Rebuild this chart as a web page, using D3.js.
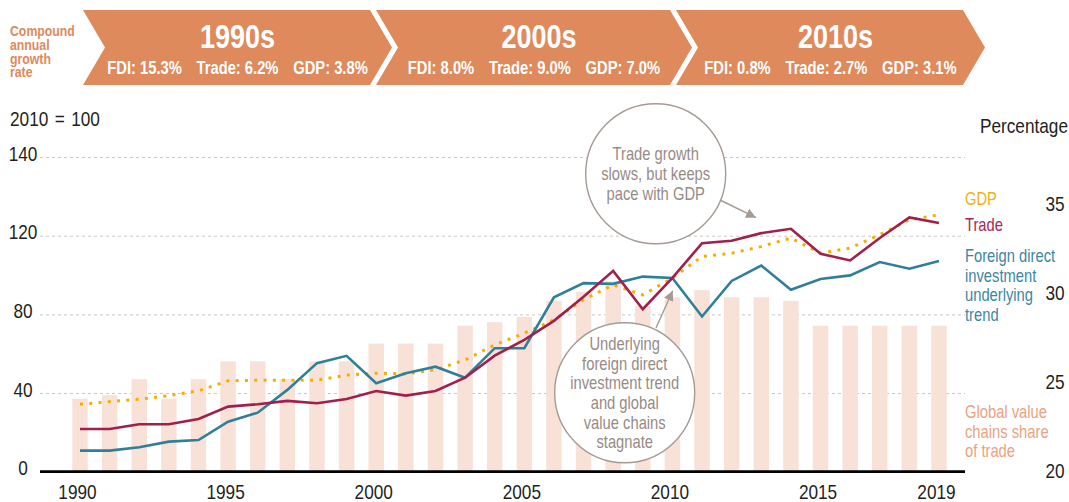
<!DOCTYPE html>
<html>
<head>
<meta charset="utf-8">
<script src="https://cdn.jsdelivr.net/npm/d3@7"></script>
<style>
  body { margin: 0; background: #fff; }
  svg { display: block; font-family: "Liberation Sans", Arial, sans-serif; }
</style>
</head>
<body>
<div id="grafica"></div>
<script>
// Datos
const years = d3.range(1990, 2020)
const trade = [21.7, 21.7, 24.1, 24.1, 26.8, 33.1, 34.3, 36.0, 34.8, 37.0,
               41.0, 38.7, 41.0, 47.8, 59.0, 67.0, 76.7, 89.0, 102.1, 82.6,
               98.5, 116.2, 117.4, 121.3, 123.5, 110.8, 107.4, 118.8, 129.3, 126.4]
const fdi = [10.7, 10.7, 12.4, 15.3, 16.1, 25.4, 30.0, 41.6, 55.2, 58.9,
             45.0, 50.1, 53.4, 47.8, 62.8, 62.8, 88.7, 95.9, 95.5, 99.2,
             98.5, 78.9, 97.0, 104.8, 92.5, 98.0, 99.8, 106.6, 103.2, 107.1]
const gdp = [34.3, 35.6, 36.8, 38.7, 41.1, 46.2, 46.5, 46.5, 46.5, 49.1,
             50.1, 49.7, 51.8, 56.8, 64.5, 70.4, 77.2, 87.4, 95.0, 89.9,
             98.5, 109.4, 111.1, 114.5, 118.8, 111.1, 113.7, 120.5, 128.1, 130.6]
const gvcShare = [24.1, 24.3, 25.2, 24.1, 25.2, 26.2, 26.2, 25.2, 26.2, 26.2,
                  27.2, 27.2, 27.2, 28.2, 28.4, 28.7, 29.6, 30.1, 30.7, 29.3,
                  29.8, 30.2, 29.8, 29.8, 29.6, 28.2, 28.2, 28.2, 28.2, 28.2]

const xTicks = [1990, 1995, 2000, 2005, 2010, 2015, 2019]
const leftTicks = [0, 40, 80, 120, 160]
const leftTickLabels = ["0", "40", "80", "120", "140"]
const rightTicks = [20, 25, 30, 35]

const decades = ["1990s", "2000s", "2010s"]
const decadeRates = [
  "FDI: 15.3%\u2003Trade: 6.2%\u2003GDP: 3.8%",
  "FDI: 8.0%\u2003Trade: 9.0%\u2003GDP: 7.0%",
  "FDI: 0.8%\u2003Trade: 2.7%\u2003GDP: 3.1%"
]

// Colores
const cNaranja = "#de8a5c"
const cTrade = "#a01f4c"
const cFdi = "#2f7f99"
const cGdp = "#f5ae00"
const cBar = "#f8e2d8"
const cGris = "#a59a94"
const cTexto = "#231f20"

const anchoTotal = 1069
const altoTotal = 502
const base = 471.7
const K = 0.82 // compresion horizontal (fuente estrecha)

const svg = d3.select("#grafica").append("svg")
    .attr("width", anchoTotal)
    .attr("height", altoTotal)

// Texto estrecho: grupo escalado en x
const texto = (parent, x, y, lines, lh) => {
  const t = parent.append("g")
      .attr("transform", `translate(${x},${y}) scale(${K},1)`)
    .append("text")
  lines.forEach((s, i) => {
    t.append("tspan").attr("x", 0).attr("y", i * lh).text(s)
  })
  return t
}

// Escaladores
const x = d3.scaleLinear().domain([1990, 2019]).range([80, 939])
const yL = d3.scaleLinear().domain([0, 160]).range([base, 157])
const yR = d3.scaleLinear().domain([20, 35]).range([base, 204.7])

// Cabecera (chevrons)
const bandas = [[83, 370], [376, 670], [676, 963]]
const punta = 22
const hTop = 10, hBot = 85, hMid = 47.5

bandas.forEach(([l, r], i) => {
  svg.append("polygon")
    .attr("points", [[l, hTop], [r, hTop], [r + punta, hMid], [r, hBot], [l, hBot], [l + punta, hMid]].join(" "))
    .attr("fill", cNaranja)
  const cx = (l + r + punta) / 2
  texto(svg, cx + (i === 0 ? 0 : 5), 47.5, [decades[i]], 0)
    .attr("text-anchor", "middle")
    .attr("fill", "#fff")
    .attr("font-weight", "bold")
    .attr("font-size", "33px")
  texto(svg, cx, 73.5, [decadeRates[i]], 0)
    .attr("text-anchor", "middle")
    .attr("fill", "#fff")
    .attr("font-weight", "bold")
    .attr("font-size", "18px")
})

texto(svg, 10, 36, ["Compound", "annual", "growth", "rate"], 13.8)
    .attr("fill", cNaranja)
    .attr("font-weight", "bold")
    .attr("font-size", "15px")

// Rejilla
const grid = svg.append("g")
    .attr("transform", "translate(40,0)")
    .call(d3.axisRight(yL).tickValues(leftTicks.slice(1)).tickSize(925).tickFormat(""))
grid.select(".domain").remove()
grid.selectAll("line")
    .attr("stroke", "#c8c8c8")
    .attr("stroke-dasharray", "3,3")

// Barras (cadenas de valor, eje derecho)
svg.append("g").selectAll("rect")
  .data(years)
  .join("rect")
    .attr("x", d => x(d) - 7.75)
    .attr("width", 15.5)
    .attr("y", (d, i) => yR(gvcShare[i]))
    .attr("height", (d, i) => base - yR(gvcShare[i]))
    .attr("fill", cBar)

// Anotaciones (circulos)
const notas = [
  { cx: 655.7, cy: 173.7, lines: ["Trade growth", "slows, but keeps", "pace with GDP"] },
  { cx: 624.7, cy: 392.7, lines: ["Underlying", "foreign direct", "investment trend", "and global", "value chains", "stagnate"] }
]
notas.forEach(n => {
  svg.append("circle")
    .attr("cx", n.cx).attr("cy", n.cy).attr("r", 70)
    .attr("fill", "#fff")
    .attr("stroke", cGris)
    .attr("stroke-width", 1.4)
  const y0 = n.cy - (n.lines.length - 1) * 19.7 / 2 + 6.4
  texto(svg, n.cx, y0, n.lines, 19.7)
    .attr("text-anchor", "middle")
    .attr("fill", "#978b86")
    .attr("font-size", "18px")
})

// Lineas
const linea = serie => d3.line()
    .x((d, i) => x(years[i]))
    .y(d => yL(d))(serie)

svg.append("path")
    .attr("d", linea(gdp))
    .attr("fill", "none")
    .attr("stroke", cGdp)
    .attr("stroke-width", 3)
    .attr("stroke-dasharray", "3,6.3")

svg.append("path")
    .attr("d", linea(fdi))
    .attr("fill", "none")
    .attr("stroke", cFdi)
    .attr("stroke-width", 2.6)

svg.append("path")
    .attr("d", linea(trade))
    .attr("fill", "none")
    .attr("stroke", cTrade)
    .attr("stroke-width", 2.6)

// Flechas
svg.append("defs").append("marker")
    .attr("id", "flecha")
    .attr("viewBox", "0 0 10 10")
    .attr("refX", 10).attr("refY", 5)
    .attr("markerWidth", 10).attr("markerHeight", 10)
    .attr("markerUnits", "userSpaceOnUse")
    .attr("orient", "auto")
  .append("path")
    .attr("d", "M0,0 L10,5 L0,10 Z")
    .attr("fill", cGris)

;[[720, 200, 756, 217.7], [656, 328, 672.7, 290.7]].forEach(([x1, y1, x2, y2]) => {
  svg.append("line")
    .attr("x1", x1).attr("y1", y1).attr("x2", x2).attr("y2", y2)
    .attr("stroke", cGris)
    .attr("stroke-width", 1.4)
    .attr("marker-end", "url(#flecha)")
})

// Ejes
svg.append("line")
    .attr("x1", 40).attr("x2", 965)
    .attr("y1", base).attr("y2", base)
    .attr("stroke", "#000")
    .attr("stroke-width", 2.8)

const ejeX = svg.append("g")
    .attr("transform", `translate(0,${base})`)
    .call(d3.axisBottom(x).tickValues(xTicks).tickSize(0).tickFormat(d3.format("d")))
ejeX.select(".domain").remove()
ejeX.selectAll("text")
    .attr("font-family", null)
    .attr("font-size", "21px")
    .attr("fill", cTexto)
    .attr("transform", `scale(${K},1)`)
    .attr("x", -3 / K)
    .attr("y", 27.5)
    .attr("dy", 0)

const ejeY = svg.append("g")
    .attr("transform", "translate(23,0)")
    .call(d3.axisLeft(yL).tickValues(leftTicks).tickSize(0).tickPadding(0)
      .tickFormat((d, i) => leftTickLabels[i]))
ejeY.select(".domain").remove()
ejeY.selectAll("text")
    .attr("font-family", null)
    .attr("font-size", "21px")
    .attr("fill", cTexto)
    .attr("transform", `scale(${K},1)`)
    .attr("text-anchor", "middle")
    .attr("dy", "0.15em")

const ejeR = svg.append("g")
    .attr("transform", "translate(1055,0)")
    .call(d3.axisRight(yR).tickValues(rightTicks).tickSize(0).tickPadding(0))
ejeR.select(".domain").remove()
ejeR.selectAll("text")
    .attr("font-family", null)
    .attr("font-size", "21px")
    .attr("fill", cTexto)
    .attr("transform", `scale(${K},1)`)
    .attr("text-anchor", "middle")
    .attr("dy", "0.27em")

texto(svg, 10, 126, ["2010 = 100"], 0)
    .attr("font-size", "21px")
    .attr("fill", cTexto)
    .attr("word-spacing", "2px")

texto(svg, 1068, 133, ["Percentage"], 0)
    .attr("text-anchor", "end")
    .attr("font-size", "21px")
    .attr("fill", cTexto)

// Leyenda
const leyenda = [
  { lines: ["GDP"], y: 199, color: "#f2b01a" },
  { lines: ["Trade"], y: 224.5, color: "#a32a55" },
  { lines: ["Foreign direct", "investment", "underlying", "trend"], y: 256, color: "#3b87a1" },
  { lines: ["Global value", "chains share", "of trade"], y: 411.7, color: "#eba27f" }
]
leyenda.forEach(l => {
  texto(svg, 965, l.y + 6.4, l.lines, 19.5)
    .attr("fill", l.color)
    .attr("font-size", "18px")
})
</script>
</body>
</html>
